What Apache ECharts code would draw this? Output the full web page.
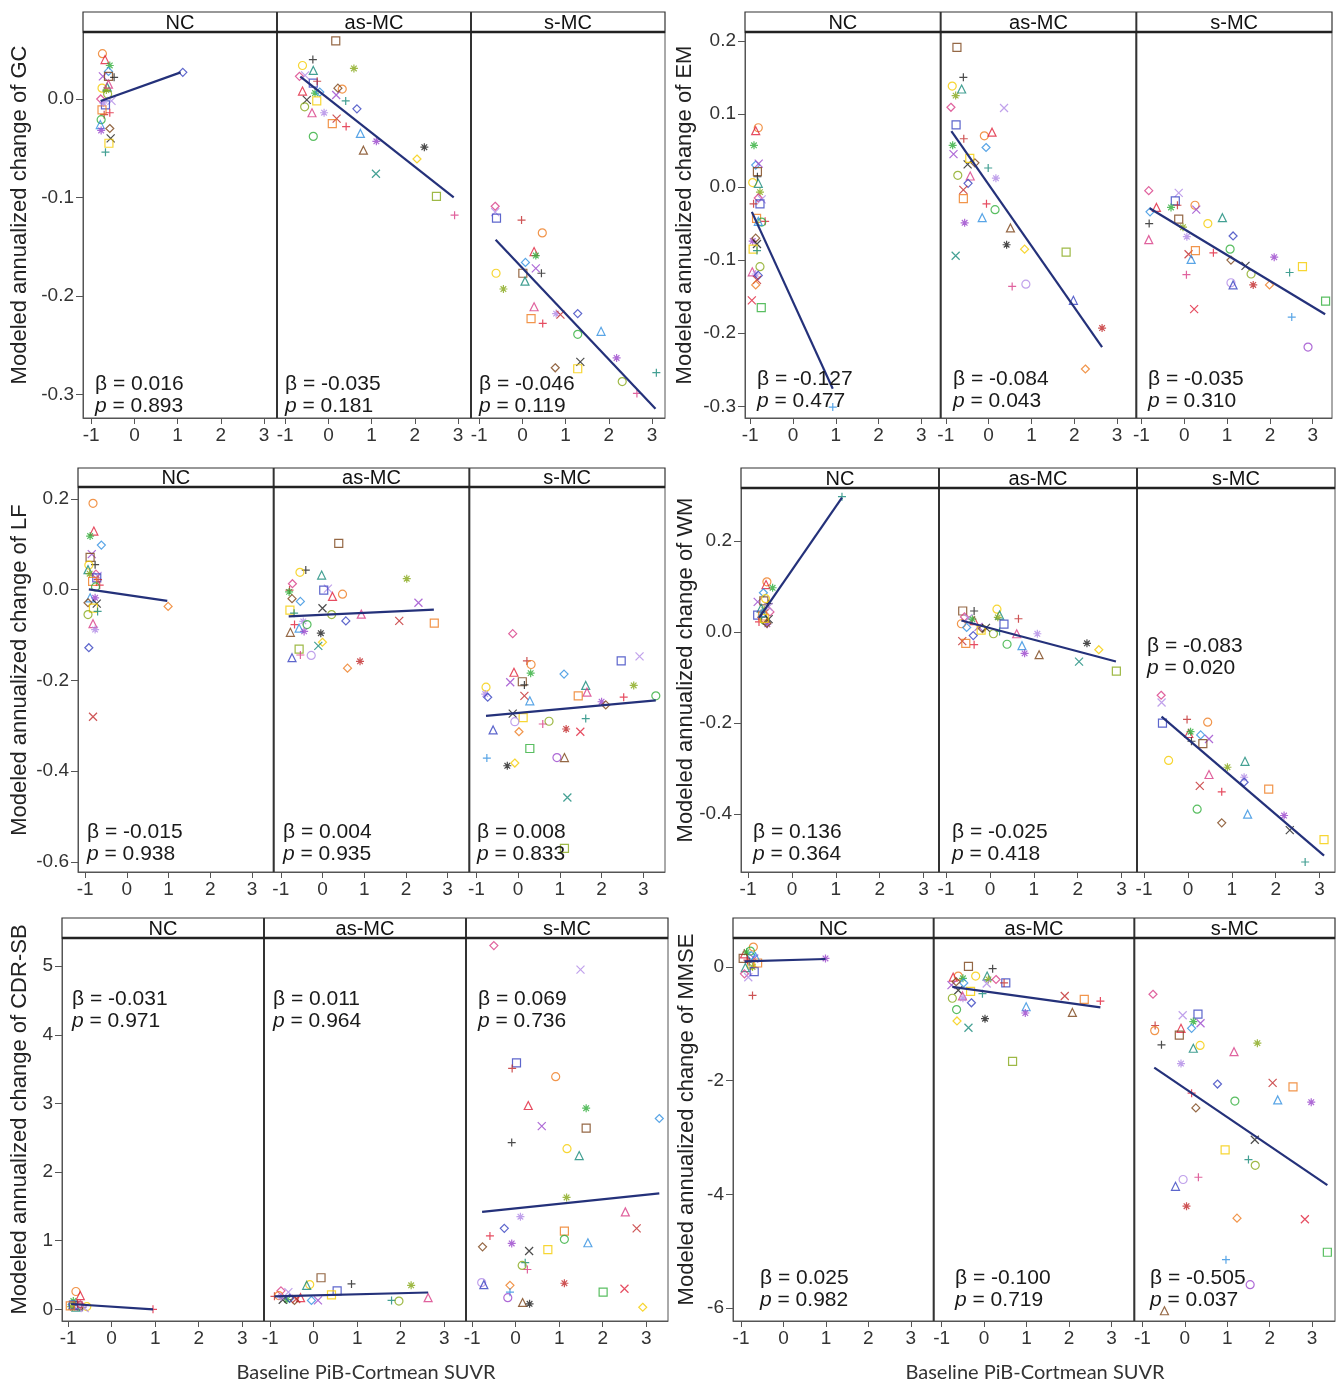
<!DOCTYPE html>
<html>
<head>
<meta charset="utf-8">
<script src="https://cdn.jsdelivr.net/npm/echarts@6/dist/echarts.min.js"></script>
<style>
html,body{margin:0;padding:0;background:#fff}
#main{width:1337px;height:1384px}
</style>
</head>
<body>
<div id="main"></div>
<script>
// facets and tick labels
var groups = ['NC', 'as-MC', 's-MC'];
var xTicks = [-1, 0, 1, 2, 3];
var gcTicks = [0, -0.1, -0.2, -0.3];
var emTicks = [0.2, 0.1, 0, -0.1, -0.2, -0.3];
var lfTicks = [0.2, 0, -0.2, -0.4, -0.6];
var wmTicks = [0.2, 0, -0.2, -0.4];
var cdrTicks = [0, 1, 2, 3, 4, 5];
var mmseTicks = [0, -2, -4, -6];

// GC
var gcNC = [[-0.74,0.046],[-0.68,0.040],[-0.57,0.034],[-0.60,0.028],[-0.73,0.023],[-0.60,0.023],[-0.47,0.022],[-0.75,0.011],[-0.63,0.012],[-0.65,0.009],[-0.78,0.0],[-0.53,-0.002],[-0.67,-0.006],[-0.70,-0.016],[-0.75,-0.011],[-0.57,-0.014],[-0.77,-0.021],[-0.79,-0.026],[-0.77,-0.032],[-0.57,-0.030],[-0.55,-0.040],[-0.59,-0.045],[-0.67,-0.054],[-0.62,0.005],[-0.60,0.015],[-0.72,-0.004],[1.12,0.027]];
var gcAs = [[0.17,0.059],[-0.36,0.040],[-0.60,0.034],[-0.35,0.029],[0.59,0.031],[-0.67,0.023],[-0.54,0.024],[-0.35,0.016],[-0.26,0.018],[0.32,0.010],[-0.60,0.008],[-0.31,0.006],[-0.20,0.007],[0.18,0.004],[0.22,0.011],[-0.50,-0.001],[-0.27,-0.002],[0.40,-0.002],[-0.55,-0.008],[-0.38,-0.014],[-0.10,-0.014],[0.66,-0.010],[0.19,-0.020],[0.09,-0.025],[0.41,-0.028],[-0.35,-0.038],[0.74,-0.035],[1.11,-0.043],[0.81,-0.052],[2.22,-0.049],[2.05,-0.061],[1.10,-0.076],[2.50,-0.099],[2.92,-0.118]];
var gcS = [[-0.63,-0.109],[-0.63,-0.115],[-0.60,-0.121],[-0.02,-0.123],[0.46,-0.136],[0.27,-0.155],[0.31,-0.159],[0.07,-0.166],[0.31,-0.172],[0.01,-0.177],[0.44,-0.177],[-0.61,-0.177],[0.06,-0.185],[-0.44,-0.193],[0.27,-0.211],[0.78,-0.218],[1.28,-0.218],[0.88,-0.219],[0.20,-0.223],[0.47,-0.228],[1.28,-0.239],[1.82,-0.236],[2.18,-0.263],[0.76,-0.273],[1.34,-0.267],[1.28,-0.274],[3.10,-0.278],[2.31,-0.287],[2.65,-0.299]];
var gcNCLine = [[-0.78,-0.002],[1.07,0.027]];
var gcAsLine = [[-0.65,0.0226],[2.90,-0.100]];
var gcSLine = [[-0.62,-0.143],[3.08,-0.3145]];
var gcStats = [['0.016','0.893'],['-0.035','0.181'],['-0.046','0.119']];

// EM
var emNC = [[-0.81,0.081],[-0.87,0.077],[-0.91,0.057],[-0.87,0.030],[-0.80,0.032],[-0.83,0.021],[-0.83,0.014],[-0.94,0.006],[-0.81,0.005],[-0.77,-0.007],[-0.81,-0.015],[-0.73,-0.017],[-0.77,-0.023],[-0.92,-0.023],[-0.85,-0.043],[-0.65,-0.047],[-0.73,-0.048],[-0.81,-0.047],[-0.94,-0.074],[-0.87,-0.070],[-0.84,-0.078],[-0.93,-0.085],[-0.84,-0.087],[-0.77,-0.109],[-0.95,-0.116],[-0.87,-0.119],[-0.81,-0.121],[-0.84,-0.127],[-0.87,-0.134],[-0.96,-0.155],[-0.74,-0.165],[0.93,-0.301]];
var emAs = [[-0.74,0.191],[-0.59,0.150],[-0.85,0.138],[-0.63,0.134],[-0.77,0.125],[-0.88,0.109],[0.36,0.108],[-0.76,0.085],[-0.58,0.066],[-0.10,0.070],[0.08,0.075],[-0.84,0.057],[-0.06,0.054],[-0.82,0.045],[-0.32,0.033],[-0.49,0.031],[-0.44,0.039],[-0.01,0.026],[-0.72,0.016],[-0.43,0.015],[0.17,0.012],[-0.48,0.005],[-0.59,-0.004],[-0.59,-0.016],[-0.05,-0.023],[0.15,-0.031],[-0.15,-0.042],[-0.56,-0.049],[0.51,-0.056],[0.42,-0.079],[0.84,-0.085],[-0.77,-0.094],[1.81,-0.089],[0.55,-0.136],[0.87,-0.133],[1.98,-0.155],[2.65,-0.193],[2.26,-0.249]];
var emS = [[-0.83,-0.005],[-0.13,-0.008],[-0.21,-0.019],[-0.16,-0.025],[0.25,-0.025],[-0.65,-0.028],[-0.31,-0.028],[-0.80,-0.034],[0.28,-0.031],[-0.13,-0.044],[-0.82,-0.050],[0.55,-0.050],[0.89,-0.042],[-0.03,-0.055],[-0.83,-0.072],[0.06,-0.068],[1.14,-0.067],[0.10,-0.092],[0.26,-0.087],[0.68,-0.090],[1.07,-0.085],[0.16,-0.099],[2.10,-0.096],[1.09,-0.100],[1.43,-0.108],[2.76,-0.109],[2.46,-0.117],[1.56,-0.119],[0.05,-0.120],[1.09,-0.131],[1.14,-0.134],[1.61,-0.134],[1.99,-0.134],[0.23,-0.167],[3.30,-0.156],[2.51,-0.178],[2.89,-0.219]];
var emNCLine = [[-0.96,-0.034],[0.93,-0.276]];
var emAsLine = [[-0.87,0.0765],[2.65,-0.219]];
var emSLine = [[-0.81,-0.029],[3.29,-0.174]];
var emStats = [['-0.127','0.477'],['-0.084','0.043'],['-0.035','0.310']];

// LF
var lfNC = [[-0.81,0.190],[-0.79,0.129],[-0.88,0.118],[-0.61,0.098],[-0.84,0.078],[-0.88,0.071],[-0.76,0.055],[-0.91,0.054],[-0.93,0.044],[-0.89,0.035],[-0.74,0.034],[-0.70,0.030],[-0.72,0.026],[-0.69,0.022],[-0.82,0.018],[-0.65,0.010],[-0.75,0.006],[-0.88,-0.018],[-0.76,-0.018],[-0.93,-0.029],[-0.72,-0.031],[-0.80,-0.041],[-0.70,-0.048],[-0.93,-0.055],[-0.81,-0.075],[-0.76,-0.088],[-0.91,-0.128],[-0.81,-0.280],[0.99,-0.037]];
var lfAs = [[0.39,0.102],[-0.40,0.043],[-0.54,0.038],[-0.02,0.032],[2.02,0.024],[-0.72,0.013],[0.13,0.002],[0.03,-0.001],[-0.79,-0.001],[0.48,-0.010],[0.24,-0.015],[-0.80,-0.005],[-0.53,-0.026],[2.30,-0.029],[-0.73,-0.020],[0.0,-0.041],[-0.78,-0.045],[-0.68,-0.052],[0.22,-0.055],[0.93,-0.054],[-0.46,-0.070],[0.56,-0.069],[1.84,-0.069],[2.68,-0.074],[-0.67,-0.077],[-0.37,-0.077],[-0.56,-0.085],[-0.44,-0.092],[-0.77,-0.094],[-0.04,-0.096],[0.0,-0.116],[-0.10,-0.124],[-0.56,-0.131],[-0.53,-0.144],[-0.27,-0.145],[-0.73,-0.150],[0.90,-0.158],[0.60,-0.173]];
var lfS = [[-0.13,-0.097],[2.91,-0.147],[2.47,-0.157],[0.21,-0.157],[0.31,-0.165],[-0.10,-0.182],[0.30,-0.184],[1.10,-0.186],[-0.19,-0.204],[0.10,-0.203],[0.15,-0.210],[-0.77,-0.215],[1.62,-0.211],[2.77,-0.211],[1.65,-0.226],[-0.79,-0.230],[-0.73,-0.237],[0.15,-0.234],[1.44,-0.234],[2.53,-0.237],[3.30,-0.234],[0.28,-0.245],[2.00,-0.247],[2.10,-0.254],[-0.13,-0.273],[0.12,-0.282],[1.62,-0.284],[0.74,-0.290],[0.59,-0.296],[-0.08,-0.291],[-0.60,-0.309],[1.15,-0.307],[0.02,-0.313],[1.49,-0.313],[0.28,-0.350],[-0.75,-0.371],[0.93,-0.370],[1.11,-0.370],[-0.26,-0.388],[-0.08,-0.382],[1.18,-0.458],[1.11,-0.570]];
var lfNCLine = [[-0.91,0.0007],[0.97,-0.025]];
var lfAsLine = [[-0.81,-0.059],[2.67,-0.044]];
var lfSLine = [[-0.77,-0.278],[3.30,-0.244]];
var lfStats = [['-0.015','0.938'],['0.004','0.935'],['0.008','0.833']];

// WM
var wmNC = [[-0.57,0.110],[-0.59,0.104],[-0.44,0.097],[-0.65,0.086],[-0.78,0.066],[-0.64,0.068],[-0.53,0.062],[-0.60,0.073],[-0.70,0.052],[-0.63,0.048],[-0.50,0.044],[-0.53,0.055],[-0.78,0.037],[-0.70,0.032],[-0.67,0.035],[-0.75,0.022],[-0.62,0.025],[-0.67,0.042],[-0.56,0.017],[-0.57,0.019],[-0.53,0.028],[-0.63,0.030],[1.14,0.297]];
var wmAs = [[-0.62,0.046],[-0.36,0.046],[0.16,0.050],[0.22,0.037],[0.18,0.032],[-0.58,0.033],[-0.49,0.030],[0.32,0.017],[0.65,0.029],[-0.65,0.018],[-0.36,0.025],[-0.40,0.028],[-0.53,0.010],[-0.26,0.011],[-0.17,0.007],[-0.09,0.009],[-0.20,0.004],[0.22,0.001],[0.08,-0.004],[0.61,-0.004],[1.08,-0.004],[-0.38,-0.008],[-0.63,-0.020],[-0.55,-0.025],[-0.36,-0.028],[0.39,-0.027],[0.73,-0.030],[0.79,-0.047],[1.12,-0.050],[2.21,-0.025],[2.48,-0.039],[2.03,-0.065],[2.88,-0.086]];
var wmS = [[-0.61,-0.139],[-0.60,-0.155],[-0.58,-0.200],[-0.02,-0.192],[0.45,-0.198],[0.02,-0.223],[0.06,-0.219],[0.29,-0.226],[0.48,-0.235],[0.34,-0.245],[0.08,-0.240],[-0.44,-0.282],[1.30,-0.284],[0.90,-0.297],[0.48,-0.313],[1.28,-0.319],[1.28,-0.330],[0.27,-0.338],[1.84,-0.345],[0.77,-0.351],[0.21,-0.389],[1.36,-0.400],[2.19,-0.403],[0.77,-0.419],[2.32,-0.435],[3.10,-0.456],[2.67,-0.505]];
var wmNCLine = [[-0.75,0.031],[1.14,0.295]];
var wmAsLine = [[-0.65,0.025],[2.87,-0.065]];
var wmSLine = [[-0.60,-0.186],[3.10,-0.491]];
var wmStats = [['0.136','0.364'],['-0.025','0.418'],['-0.083','0.020']];

// CDR-SB
var cdrNC = [[-0.82,0.26],[-0.72,0.20],[-0.88,0.12],[-0.91,0.07],[-0.86,0.04],[-0.77,0.05],[-0.67,0.03],[-0.57,0.04],[-0.82,0.03],[-0.93,0.04],[-0.72,0.07],[-0.62,0.02],[-0.88,0.06],[-0.78,0.08],[-0.95,0.05],[0.95,0.0]];
var cdrAs = [[0.17,0.46],[0.87,0.37],[-0.09,0.36],[-0.16,0.35],[2.24,0.35],[-0.75,0.27],[-0.58,0.25],[0.54,0.27],[-0.90,0.19],[-0.80,0.20],[-0.30,0.17],[-0.61,0.14],[-0.05,0.13],[0.10,0.13],[-0.44,0.13],[-0.71,0.14],[0.41,0.21],[1.79,0.13],[1.96,0.12],[2.63,0.17],[-0.75,0.18],[-0.55,0.16],[-0.40,0.15]];
var cdrS = [[-0.50,5.30],[1.49,4.95],[0.02,3.59],[-0.08,3.51],[0.92,3.39],[0.29,2.97],[1.62,2.93],[3.30,2.78],[0.60,2.67],[1.62,2.64],[-0.09,2.43],[1.18,2.34],[1.46,2.24],[1.17,1.63],[2.52,1.42],[0.11,1.35],[-0.26,1.18],[2.78,1.18],[1.12,1.14],[-0.59,1.07],[1.12,1.02],[1.66,0.97],[-0.09,0.96],[-0.76,0.91],[0.31,0.85],[0.74,0.87],[0.22,0.68],[0.15,0.64],[0.27,0.58],[-0.78,0.39],[-0.73,0.36],[1.12,0.38],[-0.13,0.35],[2.50,0.30],[2.01,0.25],[-0.13,0.25],[-0.18,0.17],[0.16,0.10],[0.32,0.08],[2.92,0.03]];
var cdrNCLine = [[-0.93,0.078],[0.95,0.0]];
var cdrAsLine = [[-0.90,0.19],[2.63,0.245]];
var cdrSLine = [[-0.77,1.42],[3.30,1.69]];
var cdrStats = [['-0.031','0.971'],['0.011','0.964'],['0.069','0.736']];

// MMSE
var mmseNC = [[-0.71,0.35],[-0.92,0.23],[-0.87,0.26],[-0.76,0.20],[-0.69,0.15],[-0.95,0.15],[-0.81,0.09],[-0.76,0.03],[-0.90,-0.01],[-0.73,0.0],[-0.92,-0.12],[-0.83,-0.18],[-0.69,-0.08],[-0.73,-0.50],[-0.61,0.07],[-0.85,0.12],[-0.78,0.28],[-0.66,0.18],[0.99,0.15]];
var mmseAs = [[-0.37,0.01],[0.20,-0.03],[-0.20,-0.16],[0.07,-0.16],[0.10,-0.22],[0.28,-0.22],[0.06,-0.29],[0.51,-0.28],[0.47,-0.28],[-0.61,-0.16],[-0.73,-0.18],[-0.50,-0.20],[-0.48,-0.28],[-0.77,-0.32],[-0.66,-0.26],[-0.61,-0.41],[-0.32,-0.43],[-0.04,-0.47],[-0.75,-0.55],[-0.51,-0.51],[-0.50,-0.55],[-0.30,-0.63],[1.90,-0.51],[2.36,-0.57],[2.74,-0.60],[-0.65,-0.75],[0.99,-0.70],[0.97,-0.81],[2.08,-0.80],[0.02,-0.91],[-0.64,-0.95],[-0.37,-1.07],[0.67,-1.66]];
var mmseS = [[-0.75,-0.48],[-0.05,-0.85],[0.31,-0.83],[-0.70,-1.03],[-0.71,-1.12],[-0.09,-1.08],[0.20,-0.96],[0.16,-1.08],[0.37,-0.99],[-0.13,-1.20],[-0.55,-1.37],[0.36,-1.38],[0.20,-1.43],[1.71,-1.34],[1.16,-1.49],[-0.09,-1.70],[0.77,-2.06],[2.07,-2.04],[2.55,-2.11],[0.16,-2.22],[1.18,-2.36],[2.19,-2.34],[2.98,-2.38],[0.26,-2.48],[1.65,-3.04],[0.95,-3.22],[1.50,-3.39],[1.66,-3.49],[0.32,-3.70],[-0.04,-3.74],[-0.22,-3.86],[0.04,-4.21],[1.23,-4.42],[2.83,-4.44],[3.36,-5.02],[0.97,-5.15],[1.54,-5.59],[-0.48,-6.05]];
var mmseNCLine = [[-0.92,0.10],[0.99,0.14]];
var mmseAsLine = [[-0.75,-0.35],[2.74,-0.71]];
var mmseSLine = [[-0.72,-1.77],[3.36,-3.84]];
var mmseStats = [['0.025','0.982'],['-0.100','0.719'],['-0.505','0.037']];

// marker styles, cycled per point
var palette = ['#ee7a1e','#e0203a','#2fae3a','#2f8fe0','#9a45cc','#7a4216','#1e1e1e','#f5cc00','#148878','#86a818','#d83c86','#b08ae6','#3440bf','#c2292b'];
var shapes = ['circle','rect','diamond','triangle',
  'path://M5,0L5,10M0,5L10,5',
  'path://M1,1L9,9M9,1L1,9',
  'path://M5,0L5,10M0,5L10,5M1.5,1.5L8.5,8.5M8.5,1.5L1.5,8.5'];

var FONT = '"Liberation Sans", Arial, sans-serif';

var panels = [
  {title:'Modeled annualized change of GC', pts:[gcNC,gcAs,gcS], fit:[gcNCLine,gcAsLine,gcSLine], stats:gcStats, ticks:gcTicks, dec:1,
   left:83, right:665, head:12, top:32, bottom:418, xr:[-1.19,3.30], yr:[-0.324,0.068], titleX:20, statX:[95,285,479], statY:[373,373,373]},
  {title:'Modeled annualized change of EM', pts:[emNC,emAs,emS], fit:[emNCLine,emAsLine,emSLine], stats:emStats, ticks:emTicks, dec:1,
   left:745, right:1332, head:12, top:32, bottom:418, xr:[-1.12,3.45], yr:[-0.316,0.212], titleX:685, statX:[757,953,1148], statY:[368,368,368]},
  {title:'Modeled annualized change of LF', pts:[lfNC,lfAs,lfS], fit:[lfNCLine,lfAsLine,lfSLine], stats:lfStats, ticks:lfTicks, dec:1,
   left:78, right:665, head:468, top:487, bottom:872, xr:[-1.17,3.52], yr:[-0.622,0.226], titleX:20, statX:[87,283,477], statY:[821,821,821]},
  {title:'Modeled annualized change of WM', pts:[wmNC,wmAs,wmS], fit:[wmNCLine,wmAsLine,wmSLine], stats:wmStats, ticks:wmTicks, dec:1,
   left:741, right:1335, head:468, top:488, bottom:872, xr:[-1.16,3.35], yr:[-0.527,0.316], titleX:686, statX:[753,952,1147], statY:[821,821,635]},
  {title:'Modeled annualized change of CDR-SB', pts:[cdrNC,cdrAs,cdrS], fit:[cdrNCLine,cdrAsLine,cdrSLine], stats:cdrStats, ticks:cdrTicks, dec:0,
   left:62, right:668, head:918, top:938, bottom:1321, xr:[-1.14,3.50], yr:[-0.17,5.41], titleX:20, statX:[72,273,478], statY:[988,988,988]},
  {title:'Modeled annualized change of MMSE', pts:[mmseNC,mmseAs,mmseS], fit:[mmseNCLine,mmseAsLine,mmseSLine], stats:mmseStats, ticks:mmseTicks, dec:0,
   left:733, right:1335, head:918, top:938, bottom:1321, xr:[-1.19,3.54], yr:[-6.23,0.51], titleX:687, statX:[760,955,1150], statY:[1267,1267,1267]}
];

var grids = [], xAxes = [], yAxes = [], series = [], elements = [];

panels.forEach(function (p) {
  var w = (p.right - p.left) / 3;
  elements.push({type:'rect', shape:{x:p.left, y:p.head, width:p.right - p.left, height:p.top - p.head},
    style:{fill:'#fff', stroke:'#333', lineWidth:1.2}, silent:true, z:5});
  for (var k = 0; k < 3; k++) {
    var gl = p.left + k * w;
    var gi = grids.length;
    grids.push({left:gl, top:p.top, width:w, height:p.bottom - p.top, show:true,
      borderColor:'#555', borderWidth:1, backgroundColor:'transparent', outerBoundsMode:'none'});
    xAxes.push({type:'value', gridIndex:gi, min:p.xr[0], max:p.xr[1],
      splitLine:{show:false},
      axisLine:{show:true, onZero:false, lineStyle:{color:'#555', width:1}},
      axisTick:{show:true, customValues:xTicks, length:6, lineStyle:{color:'#555'}},
      axisLabel:{customValues:xTicks, color:'#333', fontSize:19, fontFamily:FONT, margin:8, hideOverlap:false}});
    var dec = p.dec;
    yAxes.push({type:'value', gridIndex:gi, min:p.yr[0], max:p.yr[1],
      splitLine:{show:false},
      axisLine:{show:true, onZero:false, lineStyle:{color:'#555', width:1}},
      axisTick:{show:k === 0, customValues:p.ticks, length:7, lineStyle:{color:'#555'}},
      axisLabel:{show:k === 0, customValues:p.ticks, color:'#333', fontSize:19, fontFamily:FONT, margin:9, hideOverlap:false,
        formatter:(function (d) { return function (v) { return (+v).toFixed(d); }; })(dec)}});

    var pts = p.pts[k].map(function (d, i) {
      var c = palette[(i + k * 5) % palette.length];
      var s = shapes[(i * 3 + Math.floor(i / palette.length) + k) % shapes.length];
      return {value:d, symbol:s, itemStyle:{color:'rgba(0,0,0,0)', borderColor:c, borderWidth:1.2}};
    });
    series.push({type:'scatter', xAxisIndex:gi, yAxisIndex:gi, symbolSize:8, data:pts, silent:true, z:2});
    series.push({type:'line', xAxisIndex:gi, yAxisIndex:gi, data:p.fit[k], symbol:'none', silent:true, z:3,
      lineStyle:{color:'#24317a', width:2.2}});

    // facet header text
    elements.push({type:'text', x:gl + w / 2, y:(p.head + p.top) / 2 + 1, silent:true, z:6,
      style:{text:groups[k], fill:'#111', font:'20px ' + FONT, align:'center', verticalAlign:'middle'}});
    // beta / p annotation
    elements.push({type:'text', x:p.statX[k], y:p.statY[k], silent:true, z:6,
      style:{text:'{a|β = ' + p.stats[k][0] + '}\n{i|p}{a| = ' + p.stats[k][1] + '}', verticalAlign:'top',
        rich:{a:{fontSize:21, fontFamily:FONT, fill:'#1a1a1a', lineHeight:22},
              i:{fontSize:21, fontFamily:FONT, fontStyle:'italic', fill:'#1a1a1a', lineHeight:22}}}});
    if (k > 0) {
      elements.push({type:'line', shape:{x1:gl, y1:p.head, x2:gl, y2:p.bottom}, silent:true, z:6,
        style:{stroke:'#333', lineWidth:2}});
    }
  }
  // thick rule below header
  elements.push({type:'line', shape:{x1:p.left, y1:p.top, x2:p.right, y2:p.top}, silent:true, z:6,
    style:{stroke:'#222', lineWidth:2.5}});
  // y axis title
  elements.push({type:'text', x:p.titleX, y:(p.head + p.bottom) / 2, rotation:Math.PI / 2, silent:true, z:6,
    style:{text:p.title, fill:'#222', font:'22px ' + FONT, align:'center', verticalAlign:'middle'}});
});

// x axis titles
[366, 1035].forEach(function (cx) {
  elements.push({type:'text', x:cx, y:1373, silent:true,
    style:{text:'Baseline PiB-Cortmean SUVR', fill:'#333', font:'20px Lato, "Open Sans", sans-serif', align:'center', verticalAlign:'middle'}});
});

var myChart = echarts.init(document.getElementById('main'), null, {renderer:'canvas'});
myChart.setOption({
  animation:false,
  backgroundColor:'#fff',
  grid:grids,
  xAxis:xAxes,
  yAxis:yAxes,
  series:series,
  graphic:{elements:elements}
});
</script>
</body>
</html>
